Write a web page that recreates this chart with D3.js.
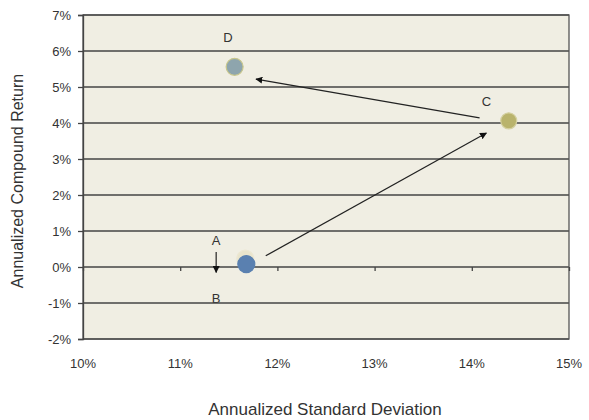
<!DOCTYPE html>
<html><head><meta charset="utf-8">
<script src="https://cdn.jsdelivr.net/npm/d3@7"></script>
<style>body{margin:0;background:#fff}text{font-family:"Liberation Sans",Arial,sans-serif}</style>
</head><body><svg id="c" width="589" height="420"></svg>
<script>
const xTicks = [10, 11, 12, 13, 14, 15];
const yTicks = [-2, -1, 0, 1, 2, 3, 4, 5, 6, 7];
const pointNames = ["A", "B", "C", "D"];
const pointX = [11.67, 11.68, 14.38, 11.56];
const pointY = [0.23, 0.08, 4.06, 5.56];
const pointFill = ["#e9e4cc", "#5a80b0", "#b9b36c", "#8ea5ad"];
const pointStroke = ["#ece7d2", "#5a80b0", "#d4d0a0", "#c8c68a"];
const labelNames = ["A", "B", "C", "D"];
const labelX = [11.37, 11.37, 14.15, 11.49];
const labelY = [0.61, -0.99, 4.47, 6.25];
const arrowX1 = [11.88, 14.08, 11.37];
const arrowY1 = [0.31, 4.14, 0.42];
const arrowX2 = [14.15, 11.78, 11.37];
const arrowY2 = [3.72, 5.22, -0.15];

const svg = d3.select("#c");
const x = d3.scaleLinear().domain([10, 15]).range([83, 569]);
const y = d3.scaleLinear().domain([-2, 7]).range([339, 15]);

svg.append("defs").append("marker").attr("id","ah").attr("viewBox","0 0 10 10")
  .attr("refX",9).attr("refY",5).attr("markerWidth",7).attr("markerHeight",7)
  .attr("markerUnits","userSpaceOnUse").attr("orient","auto")
  .append("path").attr("d","M0,0L10,5L0,10z").attr("fill","#111");

svg.append("rect").attr("x",x(10)).attr("y",y(7)).attr("width",x(15)-x(10)).attr("height",y(-2)-y(7))
  .attr("fill","#f0eee3");

// labels (drawn under gridlines, as in reference)
svg.append("g").selectAll("text").data(labelNames).join("text")
  .attr("x",(d,i)=>x(labelX[i])).attr("y",(d,i)=>y(labelY[i]))
  .attr("text-anchor","middle").attr("font-size",13).attr("fill","#333").text(d=>d);

// gridlines
svg.append("g").selectAll("line").data(yTicks).join("line")
  .attr("x1",x(10)).attr("x2",x(15)).attr("y1",d=>y(d)).attr("y2",d=>y(d))
  .attr("stroke","#444").attr("stroke-width",1.3);

svg.append("rect").attr("x",x(10)).attr("y",y(7)).attr("width",x(15)-x(10)).attr("height",y(-2)-y(7))
  .attr("fill","none").attr("stroke","#555").attr("stroke-width",1.3);

// y axis
const ya = svg.append("g").attr("transform",`translate(${x(10)},0)`)
  .call(d3.axisLeft(y).tickValues(yTicks).tickSize(5).tickPadding(7).tickFormat(d=>d+"%"));
ya.select(".domain").attr("stroke","#444").attr("stroke-width",1.3);
ya.selectAll(".tick line").attr("stroke","#444").attr("stroke-width",1.3);
ya.selectAll("text").attr("font-size",13).attr("fill","#333");

// x axis ticks on 0 line
const xa = svg.append("g").attr("transform",`translate(0,${y(0)})`)
  .call(d3.axisBottom(x).tickValues(xTicks).tickSize(4).tickFormat(""));
xa.select(".domain").remove();
xa.selectAll(".tick line").attr("stroke","#444").attr("stroke-width",1.3);
// x tick labels at bottom
svg.append("g").selectAll("text").data(xTicks).join("text")
  .attr("x",d=>x(d)).attr("y",368).attr("text-anchor","middle")
  .attr("font-size",13).attr("fill","#333").text(d=>d+"%");

// arrows
svg.append("g").selectAll("line").data(arrowX1).join("line")
  .attr("x1",(d,i)=>x(d)).attr("y1",(d,i)=>y(arrowY1[i]))
  .attr("x2",(d,i)=>x(arrowX2[i])).attr("y2",(d,i)=>y(arrowY2[i]))
  .attr("stroke","#222").attr("stroke-width",1.2).attr("marker-end","url(#ah)");

// points
svg.append("g").selectAll("circle").data(pointNames).join("circle")
  .attr("cx",(d,i)=>x(pointX[i])).attr("cy",(d,i)=>y(pointY[i]))
  .attr("r",(d,i)=>i===2?8:8.5)
  .attr("fill",(d,i)=>pointFill[i]).attr("stroke",(d,i)=>pointStroke[i]).attr("stroke-width",1.2);

// axis titles
svg.append("text").attr("x",325).attr("y",415).attr("text-anchor","middle")
  .attr("font-size",17).attr("fill","#333").text("Annualized Standard Deviation");
svg.append("text").attr("transform","translate(23,181) rotate(-90)").attr("text-anchor","middle")
  .attr("font-size",16).attr("fill","#333").text("Annualized Compound Return");
</script></body></html>
